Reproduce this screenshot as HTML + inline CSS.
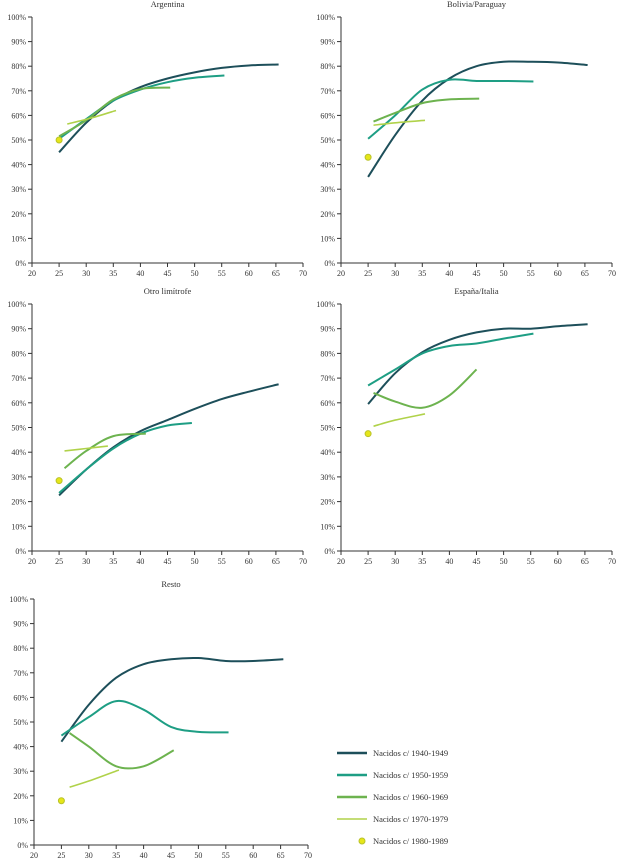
<!DOCTYPE html>
<html><head><meta charset="utf-8"><style>
body{margin:0;background:#fff;}
svg{display:block;font-family:"Liberation Serif",serif;}
</style></head><body>
<svg id="chart" width="622" height="864"></svg>
<script>
const series = ["Nacidos c/ 1940-1949","Nacidos c/ 1950-1959","Nacidos c/ 1960-1969","Nacidos c/ 1970-1979","Nacidos c/ 1980-1989"];
const colors = ["#1d4f5a","#1e9e84","#6db34f","#b0d24a","#e6e619"];
const xTicks = [20,25,30,35,40,45,50,55,60,65,70];
const yTicks = [0,10,20,30,40,50,60,70,80,90,100];
const panelTitles = ["Argentina","Bolivia/Paraguay","Otro limítrofe","España/Italia","Resto"];
const argentina = [
 [[25,45],[30,57],[35,66],[40,71.5],[45,75],[50,77.5],[55,79.3],[60,80.3],[65.5,80.7]],
 [[25,50.5],[30,58.5],[35,66],[40,70.5],[45,73.5],[50,75.3],[55.5,76.2]],
 [[25,51.5],[30,58],[35,66.5],[40,70.7],[45.5,71.3]],
 [[26.5,56.5],[31,59],[35.5,62]],
 [[25,50]]];
const bolivia = [
 [[25,35],[30,52],[35,66],[40,75],[45,80],[50,81.8],[55,81.8],[60,81.5],[65.5,80.5]],
 [[25,50.5],[30,60],[35,70.5],[40,74.5],[45,74],[50,74],[55.5,73.8]],
 [[26,57.5],[30,61],[35,65],[40,66.5],[45.5,66.8]],
 [[26,56],[30,57],[35.5,58]],
 [[25,43]]];
const otro = [
 [[25,22.5],[30,33],[35,42],[40,48.5],[45,53],[50,57.5],[55,61.5],[60,64.5],[65.5,67.5]],
 [[25,23.5],[30,33],[35,41.5],[40,47.5],[45,50.8],[49.5,51.8]],
 [[26,33.5],[30,40.5],[35,46.5],[41,47.5]],
 [[26,40.5],[30,41.5],[34,42.5]],
 [[25,28.5]]];
const espana = [
 [[25,59.5],[30,72],[35,80.5],[40,85.5],[45,88.5],[50,90],[55,90],[60,91],[65.5,91.8]],
 [[25,67],[30,73.5],[35,80],[40,83],[45,84],[50,86],[55.5,88]],
 [[26,64],[30,60.5],[35,58],[40,63],[45,73.5]],
 [[26,50.5],[30,53],[35.5,55.5]],
 [[25,47.5]]];
const resto = [
 [[25,42],[30,57],[35,68],[40,73.5],[45,75.5],[50,76],[55,74.8],[60,74.8],[65.5,75.5]],
 [[25,44.5],[30,52],[35,58.5],[40,55],[45,48],[50,46],[55.5,45.8]],
 [[26.5,45.5],[30,40],[35,32],[40,32],[45.5,38.5]],
 [[26.5,23.5],[30,26],[35.5,30.5]],
 [[25,18]]];
const panelData = [argentina,bolivia,otro,espana,resto];

const NS="http://www.w3.org/2000/svg";
const svg=document.getElementById('chart');
function mk(t,a,p){const e=document.createElementNS(NS,t);for(const k in a)e.setAttribute(k,a[k]);(p||svg).appendChild(e);return e;}
const layout=[{x0:32,x1:303,y0:263,y1:17,ty:7},{x0:341,x1:612,y0:263,y1:17,ty:7},
 {x0:32,x1:303,y0:551,y1:304,ty:294},{x0:341,x1:612,y0:551,y1:304,ty:294},{x0:34,x1:308,y0:845,y1:599,ty:587}];
function path(pts,sx,sy){
 const P=pts.map(p=>[sx(p[0]),sy(p[1])]);
 let d="M"+P[0][0]+","+P[0][1];
 for(let i=0;i<P.length-1;i++){
  const p0=P[i-1]||P[i],p1=P[i],p2=P[i+1],p3=P[i+2]||p2;
  const c1=[p1[0]+(p2[0]-p0[0])/6,p1[1]+(p2[1]-p0[1])/6],c2=[p2[0]-(p3[0]-p1[0])/6,p2[1]-(p3[1]-p1[1])/6];
  d+=" C"+c1+" "+c2+" "+p2;
 }
 return d;
}
layout.forEach((L,pi)=>{
 const g=mk('g',{});
 
 
 const sx=v=>L.x0+(v-20)/50*(L.x1-L.x0), sy=v=>L.y0-v/100*(L.y0-L.y1);
 const t=mk('text',{x:(L.x0+L.x1)/2,y:L.ty,'text-anchor':'middle','font-size':8.5,fill:'#333'},g);
 t.textContent=panelTitles[pi];
 
 
 mk('line',{x1:L.x0,y1:L.y1,x2:L.x0,y2:L.y0,stroke:'#333','stroke-width':1},g);
 mk('line',{x1:L.x0,y1:L.y0,x2:L.x1,y2:L.y0,stroke:'#333','stroke-width':1},g);
 yTicks.forEach(v=>{mk('line',{x1:L.x0-4,x2:L.x0,y1:sy(v),y2:sy(v),stroke:'#333'},g);
  const tt=mk('text',{x:L.x0-6,y:sy(v)+3,'text-anchor':'end','font-size':8,fill:'#333'},g);tt.textContent=v+'%';
  
  });
 xTicks.forEach(v=>{mk('line',{x1:sx(v),x2:sx(v),y1:L.y0,y2:L.y0+4,stroke:'#333'},g);
  const tt=mk('text',{x:sx(v),y:L.y0+13,'text-anchor':'middle','font-size':8,fill:'#333'},g);tt.textContent=v;
  
  });
 panelData[pi].forEach((pts,si)=>{
  if(si===4){const c=mk('circle',{cx:sx(pts[0][0]),cy:sy(pts[0][1]),r:3,fill:colors[4],stroke:'#b9c22a','stroke-width':1},g);
   
   }
  else{const p=mk('path',{d:path(pts,sx,sy),fill:'none',stroke:colors[si],'stroke-width':si===3?1.6:2},g);
   
   }
 });
});
const lg=mk('g',{});


series.forEach((s,i)=>{
 const y=753+i*22;
 if(i===4){mk('circle',{cx:362,cy:y,r:3,fill:colors[4],stroke:'#b9c22a'},lg);}
 else mk('line',{x1:337,x2:367,y1:y,y2:y,stroke:colors[i],'stroke-width':i===3?1.6:2.6},lg);
 const t=mk('text',{x:373,y:y+3,'font-size':8.5,fill:'#333'},lg);t.textContent=s;
 
 
});
</script>
</body></html>
